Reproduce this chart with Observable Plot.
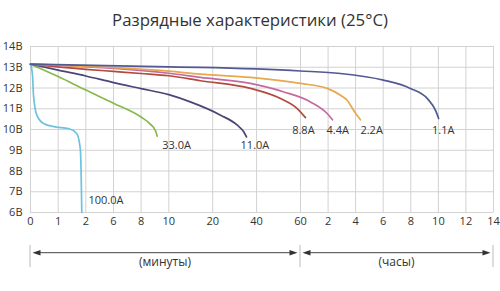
<!DOCTYPE html>
<html>
<head>
<meta charset="utf-8">
<script src="https://cdn.jsdelivr.net/npm/d3@7"></script>
<script src="https://cdn.jsdelivr.net/npm/@observablehq/plot@0.6"></script>
<style>
  body { margin: 0; background: #fff; width: 500px; height: 291px; overflow: hidden; }
  #title { height: 36px; line-height: 40px; text-align: center; font-family: "Open Sans", sans-serif; font-size: 16.8px; color: #333; white-space: nowrap; }
  svg { display: block; }
</style>
</head>
<body>
<div id="title">Разрядные характеристики (25°C)</div>
<div id="chart"></div>
<script>
// Time axis (minutes up to 60, then hours shown as minutes)
const tickValues = [0, 1, 2, 6, 8, 10, 20, 40, 60, 120, 240, 360, 480, 600, 720, 840];
const tickLabels = ["0", "1", "2", "6", "8", "10", "20", "40", "60", "2", "4", "6", "8", "10", "12", "14"];
const voltTicks = [6, 7, 8, 9, 10, 11, 12, 13, 14];

// Discharge curves: [time (min), voltage (V)]
const c100 = [[0, 13.15], [0.072, 12.62], [0.108, 11.66], [0.228, 10.69], [0.47, 10.29], [0.89, 10.13], [1.37, 10.05], [1.67, 9.81], [1.80, 9.08], [1.83, 7.96], [1.855, 6.0]];
const c33 = [[0, 13.15], [1, 12.55], [2, 11.9], [6, 11.27], [8, 10.6], [8.68, 10.25], [9.04, 9.94], [9.16, 9.68]];
const c11 = [[0, 13.15], [1, 12.86], [2, 12.58], [6, 12.26], [8, 11.97], [10, 11.68], [14.9, 11.33], [23.6, 10.69], [31.2, 10.21], [34.2, 9.88], [35.4, 9.64]];
const c8_8 = [[0, 13.15], [2, 12.9], [6, 12.8], [8, 12.7], [10, 12.59], [17.2, 12.35], [37.2, 11.98], [50.9, 11.49], [58.5, 11.01], [70.9, 10.57]];
const c4_4 = [[0, 13.15], [10, 12.71], [17.2, 12.51], [37.2, 12.22], [52.4, 11.81], [81.7, 11.33], [118, 10.77], [139, 10.47]];
const c2_2 = [[0, 13.15], [10, 12.81], [17.2, 12.67], [37.2, 12.51], [60, 12.22], [118, 11.98], [174, 11.65], [203, 11.41], [239, 10.79], [261, 10.47]];
const c1_1 = [[0, 13.15], [10, 13.02], [17.2, 12.99], [60, 12.82], [174, 12.7], [361, 12.38], [478, 11.98], [552, 11.49], [587, 10.93], [601, 10.53]];

const seriesNames = ["100.0A", "33.0A", "11.0A", "8.8A", "4.4A", "2.2A", "1.1A"];
const seriesData = [c100, c33, c11, c8_8, c4_4, c2_2, c1_1];
const seriesColors = ["#6cc3de", "#86b94c", "#4d4576", "#b34a3e", "#c56aa0", "#e8a84c", "#515a93"];

// Curve labels: [text, time (min), voltage (V)]
const labelNames = ["100.0A", "33.0A", "11.0A", "8.8A", "4.4A", "2.2A", "1.1A"];
const labelT = [2.39, 9.53, 32.7, 56.2, 116.5, 261, 572];
const labelV = [6.59, 9.24, 9.24, 9.97, 9.97, 9.97, 9.97];

const periodNames = ["(минуты)", "(часы)"];
const periodFrom = [0, 60];
const periodTo = [60, 840];

const rows = [];
seriesData.forEach((pts, i) => pts.forEach(([t, v]) => rows.push({name: seriesNames[i], t, v})));
const labels = labelNames.map((s, i) => ({s, t: labelT[i], v: labelV[i]}));

const H = 255, MB = 79;
const chart = Plot.plot({
  width: 500,
  height: H,
  marginLeft: 30,
  marginRight: 7,
  marginTop: 10,
  marginBottom: MB,
  style: {fontFamily: "Open Sans, sans-serif", fontSize: "11px", color: "#333", background: "white"},
  x: {
    type: "linear",
    domain: tickValues,
    range: [30, 57.7, 85.3, 113, 140.6, 168.3, 212.2, 256.1, 300, 327.6, 355.1, 382.7, 410.3, 437.9, 465.4, 493],
    ticks: tickValues,
    tickFormat: d => tickLabels[tickValues.indexOf(d)],
    tickSize: 0,
    tickPadding: 5,
    label: null
  },
  y: {
    domain: [6, 14],
    ticks: voltTicks,
    tickFormat: d => d + "В",
    tickSize: 0,
    tickPadding: 8,
    label: null
  },
  color: {domain: seriesNames, range: seriesColors},
  marks: [
    Plot.gridX(tickValues, {stroke: "#d2d2d2", strokeOpacity: 1, strokeWidth: 1}),
    Plot.gridY(voltTicks, {stroke: "#d2d2d2", strokeOpacity: 1, strokeWidth: 1}),
    Plot.line(rows, {x: "t", y: "v", z: "name", stroke: "name", strokeWidth: 1.7, curve: "monotone-x"}),
    Plot.text(labels, {x: "t", y: "v", text: "s", textAnchor: "start", fill: "#333", fontSize: 11})
  ]
});
document.getElementById("chart").appendChild(chart);

// Bottom period brackets, placed with the plot's own x scale
const sx = chart.scale("x");
const svg = d3.select(chart);
const yb = H - MB;
const g = svg.append("g");
const sepTimes = [0, 60, 840];
sepTimes.forEach(t => {
  const x = sx.apply(t);
  g.append("line").attr("x1", x).attr("x2", x).attr("y1", yb + 33).attr("y2", yb + 55)
    .attr("stroke", "#bbb").attr("stroke-width", 1);
});
periodNames.forEach((name, i) => {
  const xa = sx.apply(periodFrom[i]) + 2.5;
  const xb = sx.apply(periodTo[i]) - 2.5;
  const yl = yb + 40.7;
  g.append("line").attr("x1", xa + 4).attr("x2", xb - 4).attr("y1", yl).attr("y2", yl)
    .attr("stroke", "#444").attr("stroke-width", 1);
  g.append("path").attr("d", `M${xa},${yl}L${xa + 8},${yl - 2.8}L${xa + 8},${yl + 2.8}Z`).attr("fill", "#333");
  g.append("path").attr("d", `M${xb},${yl}L${xb - 8},${yl - 2.8}L${xb - 8},${yl + 2.8}Z`).attr("fill", "#333");
  g.append("text").attr("x", (sx.apply(periodFrom[i]) + sx.apply(periodTo[i])) / 2).attr("y", yb + 50)
    .attr("dy", "0.35em").attr("text-anchor", "middle")
    .attr("font-family", "Open Sans, sans-serif").attr("font-size", 12).attr("fill", "#333")
    .text(name);
});
</script>
</body>
</html>
